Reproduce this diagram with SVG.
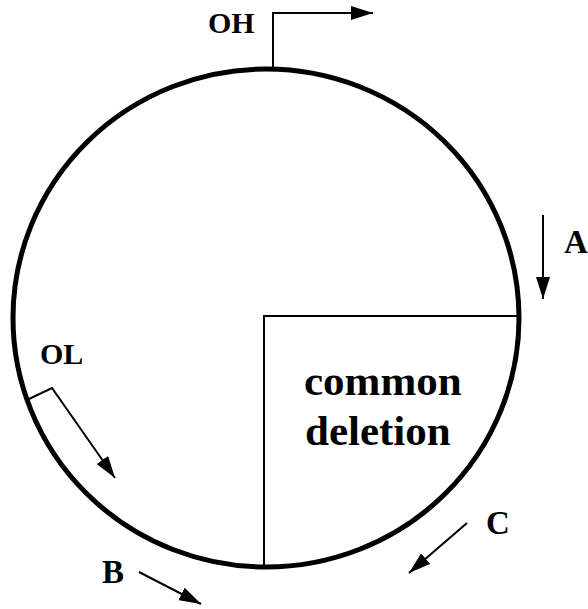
<svg xmlns="http://www.w3.org/2000/svg" width="588" height="609" viewBox="0 0 588 609">
<style>
.thin{fill:none;stroke:#000;stroke-width:2}
.lbl{font-weight:bold;fill:#000}
</style>
<defs>
<marker id="ah" markerUnits="userSpaceOnUse" markerWidth="24" markerHeight="14" refX="22" refY="7" orient="auto">
<path d="M0,0 L22,7 L0,14 Z" fill="#000"/>
</marker>
</defs>
<rect width="588" height="609" fill="#fff"/>
<g id="plasmid">
<ellipse cx="266" cy="318" rx="253" ry="249" fill="none" stroke="#000" stroke-width="5"/>
</g>
<g id="deletion" font-family="'Liberation Serif', 'DejaVu Serif', serif">
<path class="thin" d="M264,566 L264,316 L518,316"/>
<text class="lbl" x="304" y="395" font-size="43">common</text>
<text class="lbl" x="305" y="445" font-size="43">deletion</text>
</g>
<g id="connectors">
<path class="thin" d="M273,68 L273,13 L373,13" marker-end="url(#ah)"/>
<path class="thin" d="M543,215 L543,299" marker-end="url(#ah)"/>
<path class="thin" d="M29,399 L52,388 L115,478" marker-end="url(#ah)"/>
<path class="thin" d="M139,572 L201,604" marker-end="url(#ah)"/>
<path class="thin" d="M467,523 L409,573" marker-end="url(#ah)"/>
</g>
<g id="labels" font-family="'Liberation Serif', 'DejaVu Serif', serif">
<text class="lbl" x="208" y="33" font-size="30">OH</text>
<text class="lbl" x="564" y="253" font-size="33">A</text>
<text class="lbl" x="40" y="364" font-size="30">OL</text>
<text class="lbl" x="102" y="583" font-size="33">B</text>
<text class="lbl" x="486" y="534" font-size="33">C</text>
</g>
</svg>
